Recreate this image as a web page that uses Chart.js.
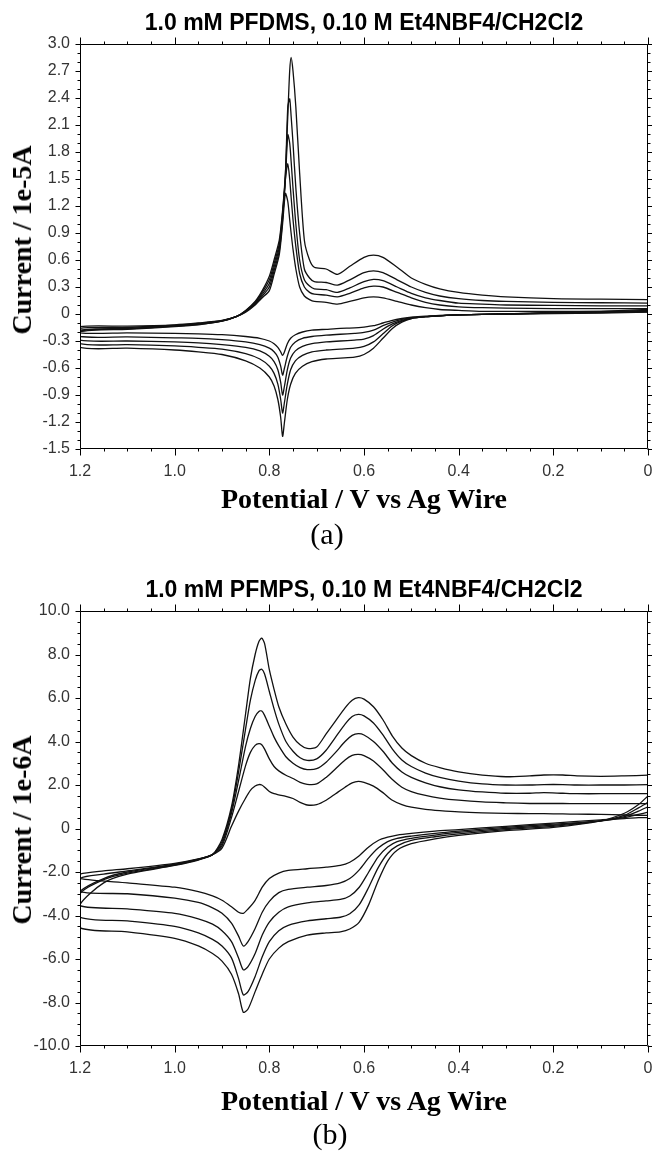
<!DOCTYPE html>
<html><head><meta charset="utf-8">
<script src="https://cdn.jsdelivr.net/npm/chart.js@4"></script>
<style>
html,body{margin:0;padding:0;background:#fff;}
#wrap{position:relative;width:652px;height:1154px;overflow:hidden;background:#fff;}
canvas{position:absolute;left:0;}
.t{position:absolute;white-space:nowrap;transform:translate(-50%,-50%);color:#000;line-height:1;}
.title{font:bold 23px "Liberation Sans",Arial,sans-serif;}
.xt{font:bold 28px "Liberation Serif","Times New Roman",serif;}
.yt{font:bold 28px "Liberation Serif","Times New Roman",serif;transform:translate(-50%,-50%) rotate(-90deg);}
.lab{font:30px "Liberation Serif","Times New Roman",serif;}
</style></head>
<body>
<div id="wrap">
<canvas id="cA" width="652" height="560" style="top:0px"></canvas>
<canvas id="cB" width="652" height="594" style="top:560px"></canvas>
<div class="t title" style="left:364px;top:22px">1.0 mM PFDMS, 0.10 M Et4NBF4/CH2Cl2</div>
<div class="t yt" style="left:22px;top:240px">Current / 1e-5A</div>
<div class="t xt" style="left:364px;top:499px">Potential / V vs Ag Wire</div>
<div class="t lab" style="left:327px;top:534px">(a)</div>
<div class="t title" style="left:364px;top:589px">1.0 mM PFMPS, 0.10 M Et4NBF4/CH2Cl2</div>
<div class="t yt" style="left:22px;top:830px">Current / 1e-6A</div>
<div class="t xt" style="left:364px;top:1101px">Potential / V vs Ag Wire</div>
<div class="t lab" style="left:330px;top:1134px">(b)</div>
</div>
<script>
// ---------- tick labels ----------
const xTickValues = [1.2, 1.0, 0.8, 0.6, 0.4, 0.2, 0];
const xTickLabels = ['1.2', '1.0', '0.8', '0.6', '0.4', '0.2', '0'];
const yTickValuesA = [-1.5, -1.2, -0.9, -0.6, -0.3, 0, 0.3, 0.6, 0.9, 1.2, 1.5, 1.8, 2.1, 2.4, 2.7, 3.0];
const yTickLabelsA = ['-1.5', '-1.2', '-0.9', '-0.6', '-0.3', '0', '0.3', '0.6', '0.9', '1.2', '1.5', '1.8', '2.1', '2.4', '2.7', '3.0'];
const yTickValuesB = [-10, -8, -6, -4, -2, 0, 2, 4, 6, 8, 10];
const yTickLabelsB = ['-10.0', '-8.0', '-6.0', '-4.0', '-2.0', '0', '2.0', '4.0', '6.0', '8.0', '10.0'];

// ---------- panel (a): PFDMS, current / 1e-5 A ----------
// return (upper) branches, potentials scanned 1.2 -> 0 V
const potUpperA = [1.2, 1.1, 1.0, 0.95, 0.9, 0.87, 0.85, 0.83, 0.815, 0.80, 0.79, 0.779, 0.772, 0.766, 0.761, 0.757, 0.754, 0.750, 0.744, 0.736, 0.726, 0.715, 0.705, 0.68, 0.656, 0.63, 0.60, 0.58, 0.56, 0.53, 0.50, 0.47, 0.44, 0.40, 0.35, 0.30, 0.20, 0.10, 0.0];
const upperA5 = [-0.20, -0.17, -0.14, -0.12, -0.08, -0.03, 0.04, 0.14, 0.26, 0.42, 0.6, 0.82, 1.15, 1.57, 2.2, 2.7, 2.85, 2.7, 2.3, 1.57, 0.82, 0.6, 0.52, 0.5, 0.44, 0.53, 0.63, 0.655, 0.63, 0.52, 0.40, 0.33, 0.28, 0.24, 0.21, 0.19, 0.17, 0.165, 0.16];
const upperA4 = [-0.19, -0.165, -0.135, -0.115, -0.078, -0.03, 0.035, 0.13, 0.24, 0.38, 0.56, 0.78, 1.12, 1.55, 2.3, 2.39, 2.2, 1.9, 1.4, 0.9, 0.5, 0.4, 0.36, 0.35, 0.32, 0.38, 0.46, 0.48, 0.46, 0.38, 0.30, 0.24, 0.2, 0.17, 0.15, 0.14, 0.13, 0.125, 0.12];
const upperA3 = [-0.18, -0.16, -0.13, -0.11, -0.076, -0.03, 0.03, 0.12, 0.22, 0.34, 0.52, 0.74, 1.08, 1.5, 1.99, 1.9, 1.7, 1.4, 1.0, 0.6, 0.38, 0.31, 0.28, 0.27, 0.24, 0.29, 0.36, 0.385, 0.37, 0.3, 0.23, 0.18, 0.15, 0.12, 0.11, 0.10, 0.095, 0.09, 0.09];
const upperA2 = [-0.16, -0.15, -0.125, -0.105, -0.074, -0.03, 0.025, 0.11, 0.2, 0.3, 0.48, 0.7, 1.05, 1.5, 1.67, 1.5, 1.3, 1.05, 0.75, 0.45, 0.3, 0.24, 0.22, 0.21, 0.19, 0.23, 0.29, 0.31, 0.3, 0.24, 0.18, 0.13, 0.1, 0.08, 0.07, 0.065, 0.06, 0.06, 0.06];
const upperA1 = [-0.14, -0.135, -0.12, -0.1, -0.072, -0.03, 0.02, 0.1, 0.18, 0.26, 0.44, 0.66, 1.0, 1.34, 1.25, 1.05, 0.9, 0.72, 0.5, 0.3, 0.2, 0.16, 0.14, 0.13, 0.11, 0.14, 0.18, 0.19, 0.18, 0.14, 0.1, 0.07, 0.05, 0.04, 0.03, 0.03, 0.03, 0.03, 0.03];
// forward (lower) branches, listed from 1.2 V down to 0 V
const potLowerA = [1.2, 1.1, 1.0, 0.95, 0.9, 0.85, 0.82, 0.80, 0.79, 0.782, 0.776, 0.772, 0.768, 0.762, 0.755, 0.745, 0.73, 0.71, 0.68, 0.65, 0.62, 0.60, 0.58, 0.56, 0.54, 0.52, 0.50, 0.47, 0.44, 0.40, 0.30, 0.20, 0.10, 0.0];
const lowerA5 = [-0.37, -0.38, -0.40, -0.42, -0.45, -0.52, -0.6, -0.7, -0.8, -0.95, -1.15, -1.36, -1.2, -0.95, -0.78, -0.66, -0.58, -0.53, -0.5, -0.49, -0.48, -0.45, -0.38, -0.27, -0.16, -0.09, -0.05, -0.03, -0.02, -0.01, 0.0, 0.02, 0.03, 0.05];
const lowerA4 = [-0.33, -0.34, -0.355, -0.37, -0.39, -0.44, -0.5, -0.58, -0.66, -0.78, -0.95, -1.1, -0.98, -0.78, -0.62, -0.52, -0.46, -0.42, -0.4, -0.39, -0.38, -0.36, -0.31, -0.22, -0.13, -0.08, -0.05, -0.03, -0.02, -0.01, 0.0, 0.015, 0.025, 0.04];
const lowerA3 = [-0.29, -0.3, -0.31, -0.32, -0.34, -0.37, -0.41, -0.47, -0.53, -0.62, -0.76, -0.9, -0.8, -0.62, -0.49, -0.41, -0.36, -0.33, -0.31, -0.30, -0.29, -0.28, -0.24, -0.17, -0.11, -0.07, -0.045, -0.03, -0.02, -0.01, 0, 0.01, 0.02, 0.03];
const lowerA2 = [-0.25, -0.255, -0.265, -0.27, -0.285, -0.31, -0.34, -0.38, -0.42, -0.48, -0.58, -0.68, -0.6, -0.47, -0.37, -0.31, -0.27, -0.25, -0.235, -0.225, -0.215, -0.205, -0.18, -0.13, -0.09, -0.06, -0.04, -0.03, -0.02, -0.01, 0, 0.01, 0.015, 0.025];
const lowerA1 = [-0.21, -0.21, -0.215, -0.22, -0.23, -0.25, -0.27, -0.3, -0.33, -0.37, -0.42, -0.46, -0.42, -0.33, -0.27, -0.23, -0.2, -0.18, -0.17, -0.16, -0.155, -0.145, -0.13, -0.1, -0.07, -0.05, -0.035, -0.025, -0.015, -0.01, 0, 0.005, 0.01, 0.02];

// ---------- panel (b): PFMPS, current / 1e-6 A ----------
const potUpperB = [1.2, 1.15, 1.1, 1.0, 0.95, 0.92, 0.9, 0.88, 0.865, 0.85, 0.84, 0.83, 0.822, 0.816, 0.81, 0.80, 0.79, 0.78, 0.765, 0.75, 0.735, 0.72, 0.70, 0.68, 0.66, 0.64, 0.625, 0.612, 0.60, 0.58, 0.56, 0.54, 0.52, 0.5, 0.47, 0.44, 0.4, 0.35, 0.3, 0.25, 0.22, 0.18, 0.15, 0.1, 0.05, 0];
const upperB5 = [-3.5, -2.5, -2.1, -1.7, -1.45, -1.2, -0.5, 1.0, 2.9, 5.3, 6.9, 8.0, 8.6, 8.75, 8.5, 7.3, 6.4, 5.6, 4.8, 4.2, 3.85, 3.68, 3.75, 4.35, 4.95, 5.55, 5.9, 6.02, 5.95, 5.6, 5.0, 4.25, 3.7, 3.35, 3.0, 2.8, 2.6, 2.45, 2.38, 2.42, 2.46, 2.46, 2.42, 2.4, 2.42, 2.45];
const upperB4 = [-3.0, -2.35, -2.05, -1.68, -1.43, -1.2, -0.6, 0.85, 2.6, 4.6, 5.9, 6.8, 7.25, 7.32, 7.1, 6.3, 5.5, 4.8, 4.0, 3.55, 3.25, 3.13, 3.2, 3.6, 4.2, 4.8, 5.15, 5.25, 5.18, 4.85, 4.3, 3.65, 3.15, 2.85, 2.55, 2.35, 2.18, 2.05, 2.0, 2.0, 2.02, 2.02, 2.0, 2.0, 2.0, 2.02];
const upperB3 = [-2.9, -2.3, -2.0, -1.66, -1.42, -1.2, -0.7, 0.7, 2.2, 3.8, 4.6, 5.15, 5.38, 5.40, 5.2, 4.7, 4.2, 3.8, 3.3, 3.0, 2.8, 2.71, 2.75, 3.05, 3.5, 4.0, 4.28, 4.36, 4.3, 4.0, 3.55, 3.0, 2.6, 2.35, 2.1, 1.92, 1.78, 1.68, 1.62, 1.62, 1.65, 1.62, 1.6, 1.6, 1.6, 1.6];
const upperB2 = [-2.3, -2.1, -1.95, -1.64, -1.41, -1.2, -0.8, 0.5, 1.7, 2.9, 3.5, 3.82, 3.9, 3.85, 3.65, 3.2, 2.85, 2.65, 2.45, 2.3, 2.12, 2.03, 2.05, 2.35, 2.75, 3.15, 3.36, 3.41, 3.35, 3.1, 2.7, 2.25, 1.9, 1.7, 1.52, 1.4, 1.3, 1.22, 1.18, 1.15, 1.15, 1.15, 1.14, 1.14, 1.14, 1.14];
const upperB1 = [-2.1, -1.95, -1.85, -1.6, -1.4, -1.2, -0.9, 0.1, 0.8, 1.4, 1.75, 1.95, 2.02, 2.0, 1.9, 1.7, 1.6, 1.55, 1.48, 1.38, 1.2, 1.08, 1.1, 1.3, 1.6, 1.9, 2.1, 2.17, 2.12, 1.95, 1.65, 1.3, 1.1, 0.98, 0.88, 0.82, 0.76, 0.72, 0.7, 0.68, 0.68, 0.67, 0.66, 0.65, 0.62, 0.6];
const potLowerB = [1.2, 1.1, 1.0, 0.95, 0.92, 0.9, 0.88, 0.865, 0.855, 0.845, 0.83, 0.815, 0.80, 0.78, 0.76, 0.72, 0.68, 0.65, 0.63, 0.61, 0.59, 0.57, 0.55, 0.53, 0.5, 0.45, 0.4, 0.3, 0.2, 0.1, 0.05, 0.02, 0];
const lowerB5 = [-4.56, -4.75, -5.05, -5.4, -5.75, -6.1, -6.7, -7.6, -8.45, -8.3, -7.5, -6.7, -6.0, -5.5, -5.2, -4.9, -4.8, -4.75, -4.62, -4.3, -3.5, -2.4, -1.5, -1.0, -0.7, -0.48, -0.32, -0.1, 0.05, 0.35, 0.7, 1.1, 1.5];
const lowerB4 = [-4.07, -4.25, -4.5, -4.8, -5.1, -5.4, -5.95, -6.9, -7.65, -7.5, -6.8, -5.9, -5.2, -4.7, -4.45, -4.25, -4.15, -4.08, -3.92, -3.5, -2.7, -1.8, -1.15, -0.8, -0.55, -0.38, -0.25, -0.05, 0.1, 0.35, 0.6, 0.95, 1.2];
const lowerB3 = [-3.55, -3.7, -3.9, -4.15, -4.4, -4.7, -5.2, -5.95, -6.5, -6.35, -5.75, -4.9, -4.3, -3.85, -3.6, -3.42, -3.33, -3.26, -3.1, -2.7, -2.0, -1.3, -0.85, -0.6, -0.45, -0.3, -0.18, 0.0, 0.15, 0.35, 0.55, 0.8, 1.0];
const lowerB2 = [-2.9, -3.0, -3.2, -3.4, -3.65, -3.9, -4.35, -4.95, -5.4, -5.2, -4.6, -3.85, -3.35, -2.95, -2.8, -2.7, -2.62, -2.5, -2.3, -1.9, -1.35, -0.9, -0.6, -0.45, -0.35, -0.22, -0.12, 0.05, 0.2, 0.35, 0.5, 0.65, 0.75];
const lowerB1 = [-2.3, -2.5, -2.7, -2.9, -3.1, -3.3, -3.6, -3.85, -3.9, -3.7, -3.3, -2.7, -2.3, -2.05, -1.93, -1.85, -1.78, -1.7, -1.55, -1.25, -0.85, -0.55, -0.4, -0.3, -0.22, -0.12, -0.05, 0.1, 0.25, 0.4, 0.45, 0.5, 0.5];

// ---------- build one closed CV loop per scan ----------
function cvLoop(potLower, lower, potUpper, upper) {
  const pts = [];
  for (let i = potLower.length - 1; i >= 0; i--) pts.push({x: potLower[i], y: lower[i]});
  for (let i = 0; i < potUpper.length; i++) pts.push({x: potUpper[i], y: upper[i]});
  return pts;
}
function ds(points) {
  return {data: points, showLine: true, borderColor: '#111', borderWidth: 1.3, pointRadius: 0, tension: 0.25, fill: false};
}

// frame + major/minor tick marks on all four sides, positioned through the chart scales
const frameTicks = {
  id: 'frameTicks',
  afterDraw(chart, args, o) {
    const {ctx, chartArea: a, scales: {x, y}} = chart;
    ctx.save();
    ctx.strokeStyle = '#000';
    ctx.lineWidth = 1;
    const L = Math.round(a.left) + 0.5, R = Math.round(a.right) - 0.5, T = Math.round(a.top) + 0.5, B = Math.round(a.bottom) - 0.5;
    ctx.beginPath(); ctx.rect(L, T, R - L, B - T); ctx.stroke();
    const seg = (x1, y1, x2, y2) => { ctx.beginPath(); ctx.moveTo(x1, y1); ctx.lineTo(x2, y2); ctx.stroke(); };
    const walk = (majors, sub, cb) => {
      for (let i = 0; i < majors.length; i++) {
        cb(majors[i], true);
        if (i < majors.length - 1) for (let k = 1; k < sub; k++) cb(majors[i] + (majors[i + 1] - majors[i]) * k / sub, false);
      }
    };
    walk(o.xMajor, o.xSub, (v, major) => {
      const p = Math.round(x.getPixelForValue(v)) + 0.5;
      const len = major ? 7 : 3;
      seg(p, B, p, B + len); seg(p, T, p, T - len);
    });
    walk(o.yMajor, o.ySub, (v, major) => {
      const p = Math.round(y.getPixelForValue(v)) + 0.5;
      const len = major ? 5 : 3;
      seg(L, p, L - len, p); seg(R, p, R + len, p);
    });
    ctx.restore();
  }
};

function makeChart(id, datasets, yMin, yMax, yVals, yLabels, ySub, padTop, xAxisH) {
  return new Chart(document.getElementById(id), {
    type: 'scatter',
    data: {datasets},
    options: {
      responsive: false, animation: false, devicePixelRatio: 1,
      layout: {padding: {top: padTop, right: 4, left: 0, bottom: 0}},
      plugins: {legend: {display: false}, tooltip: {enabled: false}, title: {display: false},
        frameTicks: {xMajor: xTickValues, xSub: 4, yMajor: yVals, ySub: ySub}},
      scales: {
        x: {type: 'linear', reverse: true, min: 0, max: 1.2,
          grid: {display: false, drawTicks: false}, border: {display: false},
          afterBuildTicks: s => { s.ticks = xTickValues.map(v => ({value: v})); },
          afterFit: s => { s.height = xAxisH; s.paddingLeft = 0; s.paddingRight = 0; },
          ticks: {padding: 13, color: '#333', font: {family: '"Liberation Sans", Arial, sans-serif', size: 16},
            maxRotation: 0, autoSkip: false,
            callback: (v) => xTickLabels[xTickValues.indexOf(v)] ?? ''}},
        y: {type: 'linear', min: yMin, max: yMax,
          grid: {display: false, drawTicks: false}, border: {display: false},
          afterBuildTicks: s => { s.ticks = yVals.map(v => ({value: v})); },
          afterFit: s => { s.width = 80; },
          ticks: {padding: 10, color: '#333', font: {family: '"Liberation Sans", Arial, sans-serif', size: 16},
            autoSkip: false,
            callback: (v) => yLabels[yVals.indexOf(v)] ?? ''}}
      }
    },
    plugins: [frameTicks]
  });
}

makeChart('cA', [
  ds(cvLoop(potLowerA, lowerA1, potUpperA, upperA1)),
  ds(cvLoop(potLowerA, lowerA2, potUpperA, upperA2)),
  ds(cvLoop(potLowerA, lowerA3, potUpperA, upperA3)),
  ds(cvLoop(potLowerA, lowerA4, potUpperA, upperA4)),
  ds(cvLoop(potLowerA, lowerA5, potUpperA, upperA5))
], -1.5, 3.0, yTickValuesA, yTickLabelsA, 3, 44, 111);

makeChart('cB', [
  ds(cvLoop(potLowerB, lowerB1, potUpperB, upperB1)),
  ds(cvLoop(potLowerB, lowerB2, potUpperB, upperB2)),
  ds(cvLoop(potLowerB, lowerB3, potUpperB, upperB3)),
  ds(cvLoop(potLowerB, lowerB4, potUpperB, upperB4)),
  ds(cvLoop(potLowerB, lowerB5, potUpperB, upperB5))
], -10, 10, yTickValuesB, yTickLabelsB, 4, 51, 108);
</script>
</body></html>
